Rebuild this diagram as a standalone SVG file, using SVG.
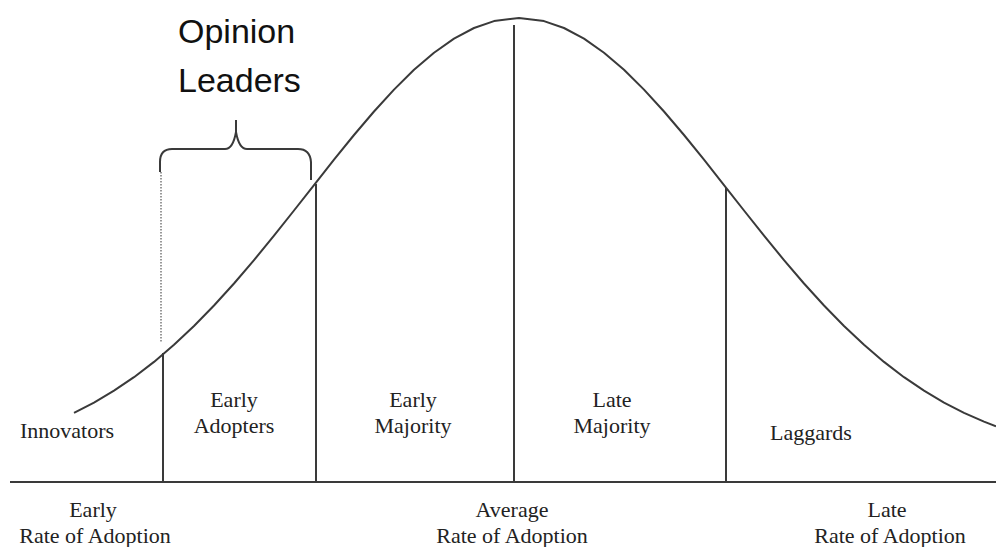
<svg xmlns="http://www.w3.org/2000/svg" width="996" height="547" viewBox="0 0 996 547">
<style>
.ln{stroke:#3a3a3a;stroke-width:2;fill:none;stroke-linejoin:round;stroke-linecap:butt}
.sf{font-family:"Liberation Serif","Times New Roman",serif;font-size:22px;fill:#222;text-anchor:middle}
.ss{font-family:"Liberation Sans",Arial,sans-serif;font-size:34px;fill:#111}
</style>
<rect width="996" height="547" fill="#fff"/>
<g id="connectors">
<line class="ln" x1="10" y1="482" x2="996" y2="482"/>
<polyline class="ln" points="74,412.8 94,402.6 114,390.7 134,377.2 154,361.9 174,344.8 194,326 214,305.5 234,283.5 254,260.1 274,235.7 294,210.5 314,185.1 334,159.7 354,135 374,111.5 394,89.6 414,69.8 434,52.7 454,38.6 474,28 494,21.1 519,18 544,21.1 564,28 584,38.6 604,52.7 624,69.8 644,89.6 664,111.5 684,135 704,159.7 724,185.1 744,210.5 764,235.7 784,260.1 804,283.5 824,305.5 844,326 864,344.8 884,361.9 904,377.2 924,390.7 944,402.6 964,412.8 984,421.6 996,426.2"/>
<line class="ln" x1="163" y1="353" x2="163" y2="482"/>
<line class="ln" x1="316" y1="184" x2="316" y2="482"/>
<line class="ln" x1="514" y1="25" x2="514" y2="482"/>
<line class="ln" x1="726" y1="188" x2="726" y2="482"/>
<path class="ln" d="M160,172 L160,162 Q160,149 172,149 L225,149 Q233,149 236,132 L236,120 M236,132 Q239,149 247,149 L298,149 Q310,149 311,162 L311,180"/>
<line x1="161" y1="172" x2="161" y2="342" stroke="#777" stroke-width="1.5" stroke-dasharray="1.5 1.5"/>
</g>
<g id="opinion-leaders"><text class="ss" x="178" y="43">Opinion</text><text class="ss" x="178" y="92">Leaders</text></g>
<g id="innovators"><text class="sf" x="67" y="438">Innovators</text></g>
<g id="early-adopters"><text class="sf" x="234" y="407">Early</text><text class="sf" x="234" y="433">Adopters</text></g>
<g id="early-majority"><text class="sf" x="413" y="407">Early</text><text class="sf" x="413" y="433">Majority</text></g>
<g id="late-majority"><text class="sf" x="612" y="407">Late</text><text class="sf" x="612" y="433">Majority</text></g>
<g id="laggards"><text class="sf" x="811" y="440">Laggards</text></g>
<g id="early-rate"><text class="sf" x="93" y="517">Early</text><text class="sf" x="95" y="543">Rate of Adoption</text></g>
<g id="average-rate"><text class="sf" x="512" y="517">Average</text><text class="sf" x="512" y="543">Rate of Adoption</text></g>
<g id="late-rate"><text class="sf" x="887" y="517">Late</text><text class="sf" x="890" y="543">Rate of Adoption</text></g>
</svg>
